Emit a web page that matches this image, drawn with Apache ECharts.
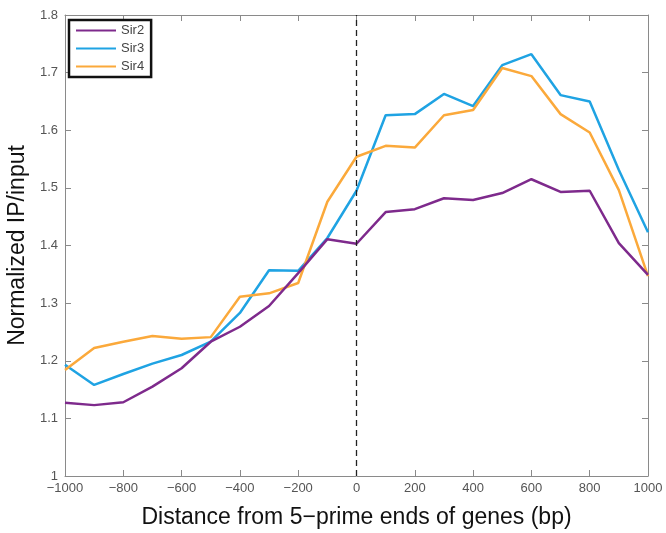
<!DOCTYPE html>
<html>
<head>
<meta charset="utf-8">
<script src="https://cdn.jsdelivr.net/npm/echarts@6/dist/echarts.min.js"></script>
<style>
  html, body { margin: 0; padding: 0; background: #fff; }
  #chart { width: 666px; height: 533px; }
</style>
</head>
<body>
<div id="chart"></div>
<script>
// distance from 5-prime ends (bp)
const positions = [-1000, -900, -800, -700, -600, -500, -400, -300, -200, -100, 0,
  100, 200, 300, 400, 500, 600, 700, 800, 900, 1000];

const sir2 = [1.127, 1.123, 1.128, 1.155, 1.187, 1.233, 1.259, 1.295, 1.352, 1.411, 1.403,
  1.458, 1.463, 1.482, 1.479, 1.491, 1.515, 1.493, 1.495, 1.404, 1.349];
const sir3 = [1.193, 1.158, 1.177, 1.195, 1.210, 1.233, 1.283, 1.357, 1.356, 1.413, 1.495,
  1.626, 1.628, 1.663, 1.642, 1.713, 1.732, 1.661, 1.650, 1.531, 1.423];
const sir4 = [1.184, 1.222, 1.233, 1.243, 1.238, 1.241, 1.311, 1.317, 1.335, 1.476, 1.554,
  1.573, 1.570, 1.626, 1.635, 1.708, 1.694, 1.628, 1.596, 1.496, 1.347];

const xTicks = [-1000, 1000, 200];
const yTicks = [1, 1.8, 0.1];

const pair = arr => positions.map((x, i) => [x, arr[i]]);

const chart = echarts.init(document.getElementById('chart'));

const axisColor = '#8a8a8a';
const baseX = {
  type: 'value', min: xTicks[0], max: xTicks[1], interval: xTicks[2],
  axisLine: { onZero: false, lineStyle: { color: axisColor, width: 1 } },
  axisTick: { inside: true, length: 6, lineStyle: { color: axisColor } },
  splitLine: { show: false }
};
const baseY = {
  type: 'value', min: yTicks[0], max: yTicks[1], interval: yTicks[2],
  axisLine: { onZero: false, lineStyle: { color: axisColor, width: 1 } },
  axisTick: { inside: true, length: 6, lineStyle: { color: axisColor } },
  splitLine: { show: false }
};

const option = {
  backgroundColor: '#fff',
  animation: false,
  textStyle: { fontFamily: 'Liberation Sans, Arial, sans-serif' },
  grid: { left: 65, right: 18, top: 15, bottom: 57, containLabel: false, outerBoundsMode: 'none' },
  legend: {
    left: 69, top: 20, orient: 'vertical',
    itemWidth: 40, itemHeight: 12, itemGap: 5,
    padding: [4, 7, 4, 7],
    borderColor: '#111', borderWidth: 2.5,
    backgroundColor: '#fff',
    textStyle: { fontSize: 13, color: '#444' },
    icon: 'path://M0,5 L40,5 L40,7 L0,7 Z',
    data: ['Sir2', 'Sir3', 'Sir4']
  },
  xAxis: [
    Object.assign({}, baseX, {
      position: 'bottom',
      name: 'Distance from 5\u2212prime ends of genes (bp)',
      nameLocation: 'middle', nameGap: 30, nameMoveOverlap: false,
      nameTextStyle: { fontSize: 23, color: '#111' },
      axisLabel: { fontSize: 13, color: '#555', margin: 6,
        formatter: v => String(v).replace('-', '\u2212') }
    }),
    Object.assign({}, baseX, { position: 'top', axisLabel: { show: false } })
  ],
  yAxis: [
    Object.assign({}, baseY, {
      position: 'left',
      name: 'Normalized IP/input',
      nameLocation: 'middle', nameGap: 36, nameMoveOverlap: false,
      nameTextStyle: { fontSize: 23, color: '#111' },
      axisLabel: { fontSize: 13, color: '#555', margin: 7,
        formatter: v => (v === 1 ? '1' : v.toFixed(1)) }
    }),
    Object.assign({}, baseY, { position: 'right', axisLabel: { show: false } })
  ],
  series: [
    {
      name: 'Sir2', type: 'line', data: pair(sir2), symbol: 'none',
      color: '#7E2A8C', lineStyle: { width: 2.5 }, z: 3,
      markLine: {
        silent: true, symbol: 'none', label: { show: false },
        lineStyle: { color: '#222', type: [6, 4], width: 1.3 },
        data: [{ xAxis: 0 }]
      }
    },
    {
      name: 'Sir3', type: 'line', data: pair(sir3), symbol: 'none',
      color: '#1FA3E3', lineStyle: { width: 2.5 }, z: 2
    },
    {
      name: 'Sir4', type: 'line', data: pair(sir4), symbol: 'none',
      color: '#FBA93B', lineStyle: { width: 2.5 }, z: 2
    }
  ]
};

chart.setOption(option);
</script>
</body>
</html>
